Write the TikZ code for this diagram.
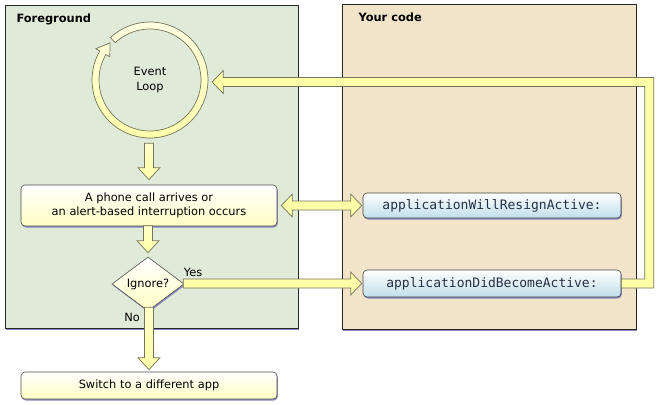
\documentclass[tikz,border=0pt]{standalone}
\usepackage{fontspec}
\setmainfont{DejaVu Sans}
\setmonofont{DejaVu Sans Mono}
\usepackage{xcolor}
\usepackage{tikz}
\usetikzlibrary{positioning}
\usetikzlibrary{shapes}
\usetikzlibrary{shadows}
\usetikzlibrary{calc}

\definecolor{fgpanel}{RGB}{224,234,216}
\definecolor{codepanel}{RGB}{242,228,200}
\definecolor{arrowfill}{RGB}{255,255,168}
\definecolor{arrowedge}{RGB}{116,116,92}
\definecolor{boxyellow}{RGB}{255,255,196}
\definecolor{boxblue}{RGB}{192,222,234}
\definecolor{shadowc}{RGB}{136,136,190}
\definecolor{codetext}{RGB}{36,48,68}

\tikzset{
  panel/.style={draw=black!85, line width=0.9pt,
    drop shadow={shadow xshift=1pt, shadow yshift=-1.8pt, fill=shadowc, opacity=1}},
  fatarrow/.style={draw=arrowedge, line width=0.7pt, fill=arrowfill, line join=miter},
  boxshadow/.style={drop shadow={shadow xshift=0.8pt, shadow yshift=-1.5pt, fill=shadowc, opacity=1}},
  yellowbox/.style={draw=black!70, line width=0.6pt, rounded corners=4pt, top color=white,
    bottom color=boxyellow, minimum width=256pt, align=center, boxshadow,
    font=\fontsize{11.4}{14}\selectfont},
  bluebox/.style={draw=black!75, line width=0.6pt, rounded corners=4pt, top color=white,
    bottom color=boxblue, minimum width=258pt, boxshadow, text=codetext,
    font=\ttfamily\fontsize{13}{15}\selectfont},
  label/.style={font=\fontsize{11.4}{14}\selectfont}
}

\newcommand{\fatdown}[2]{%
  \draw[fatarrow, top color=white!40!arrowfill, bottom color=arrowfill]
    ($(#2|-#1)+(-4.5,0)$) -- ($(#2)+(-4.5,12)$) -- ($(#2)+(-11,12)$) -- (#2)
    -- ($(#2)+(11,12)$) -- ($(#2)+(4.5,12)$) -- ($(#2|-#1)+(4.5,0)$) -- cycle;}

\newcommand{\fatright}[2]{%
  \draw[fatarrow]
    ($(#1|-#2)+(0,4.5)$) -- ($(#2)+(-11,4.5)$) -- ($(#2)+(-11,11.5)$) -- (#2)
    -- ($(#2)+(-11,-11.5)$) -- ($(#2)+(-11,-4.5)$) -- ($(#1|-#2)+(0,-4.5)$) -- cycle;}

\newcommand{\fatboth}[2]{%
  \draw[fatarrow]
    (#1) -- ($(#1)+(11,11.5)$) -- ($(#1)+(11,4.5)$) -- ($(#2)+(-11,4.5)$) -- ($(#2)+(-11,11.5)$)
    -- (#2) -- ($(#2)+(-11,-11.5)$) -- ($(#2)+(-11,-4.5)$) -- ($(#1)+(11,-4.5)$)
    -- ($(#1)+(11,-11.5)$) -- cycle;}

\begin{document}
\begin{tikzpicture}[x=1pt,y=1pt]
\useasboundingbox (0,0) rectangle (660,-404);

\draw[panel, fill=fgpanel] (5,-5) rectangle (298,-328);
\draw[panel, fill=codepanel] (342,-4) rectangle (636,-329);

\node[anchor=west, font=\bfseries\fontsize{11.4}{14}\selectfont] (fgtitle) at (13,-19) {Foreground};
\node[anchor=west, font=\bfseries\fontsize{11.4}{14}\selectfont] (codetitle) at (355,-17) {Your code};

\node[circle, minimum size=116pt, align=center, font=\fontsize{11.4}{15}\selectfont] (loop) at (150,-80) {Event\\Loop};

\node[yellowbox, minimum height=41pt] (phone) at (149,-205.5) {A phone call arrives or\\an alert-based interruption occurs};
\node[diamond, aspect=1.33, draw=black!70, line width=0.6pt, top color=white, bottom color=boxyellow,
  minimum width=72pt, minimum height=54pt, inner sep=0pt, boxshadow, label] (ignore) at (148,-284) {Ignore?};
\node[yellowbox, minimum height=27pt] (switch) at (149,-385.5) {Switch to a different app};

\node[bluebox, minimum height=25pt] (resign) at (492,-205.5) {applicationWillResignActive:};
\node[bluebox, minimum height=27pt] (become) at (492,-283.5) {applicationDidBecomeActive:};

\node[label] (yes) at (193,-272) {Yes};
\node[label] (no) at (132,-317) {No};

\draw[fatarrow, top color=white!70!arrowfill, bottom color=arrowfill]
  ([shift={(493:58)}]loop.center) arc[start angle=493, end angle=150, radius=58]
  -- ([shift={(150:62.5)}]loop.center) -- ([shift={(137:54.5)}]loop.center)
  -- ([shift={(150:46.5)}]loop.center) -- ([shift={(150:51)}]loop.center)
  arc[start angle=150, end angle=493, radius=51] -- cycle;

\coordinate (loopout) at ($(loop.south)+(0,-5)$);
\coordinate (phonein) at ($(phone.north)+(0,5)$);
\fatdown{loopout}{phonein}

\coordinate (ignorein) at ($(ignore.north)+(0,4)$);
\coordinate (phoneout) at ($(phone.south)+(0,0.5)$);
\fatdown{phoneout}{ignorein}

\coordinate (ignoreout) at ($(ignore.south)+(0,4)$);
\coordinate (switchin) at ($(switch.north)+(0,2)$);
\fatdown{ignoreout}{switchin}

\coordinate (yesout) at ($(ignore.east)+(-1,0)$);
\coordinate (becomein) at ($(become.west)+(-1,0)$);
\fatright{yesout}{becomein}

\coordinate (phoneside) at ($(phone.east)+(4,0)$);
\coordinate (resignside) at ($(resign.west)+(-1,0)$);
\fatboth{phoneside}{resignside}

\coordinate (looptip) at ($(loop.east)+(4,-2)$);
\coordinate (bendlow) at ($(become.east)+(28,0)$);
\coordinate (bendhigh) at (bendlow|-looptip);
\draw[fatarrow]
  ($(become.east)+(0,-4.5)$) -- ($(bendlow)+(4.5,-4.5)$) -- ($(bendhigh)+(4.5,4.5)$)
  -- ($(looptip)+(11,4.5)$) -- ($(looptip)+(11,11.5)$) -- (looptip)
  -- ($(looptip)+(11,-11.5)$) -- ($(looptip)+(11,-4.5)$) -- ($(bendhigh)+(-4.5,-4.5)$)
  -- ($(bendlow)+(-4.5,4.5)$) -- ($(become.east)+(0,4.5)$) -- cycle;
\end{tikzpicture}
\end{document}
